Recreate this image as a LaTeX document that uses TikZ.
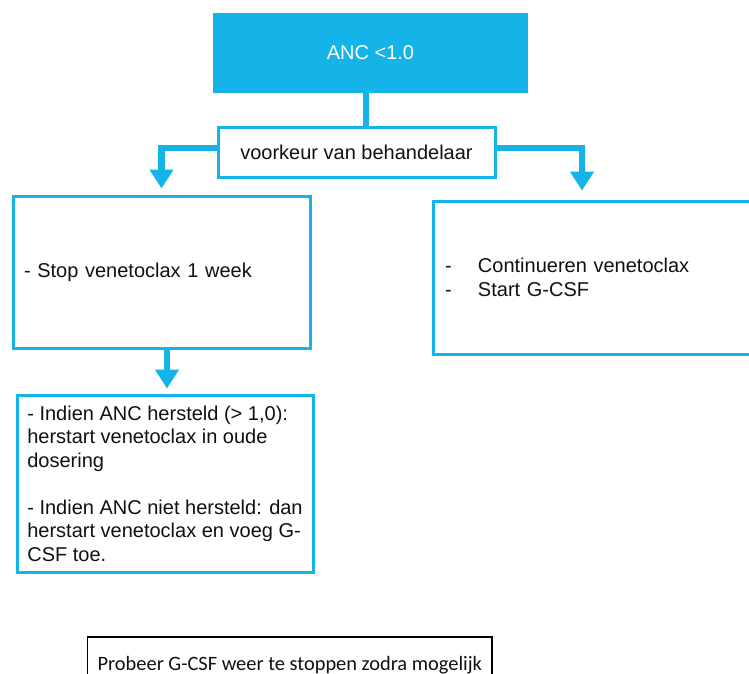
\documentclass[tikz,border=0pt]{standalone}
\usepackage{fontspec}
\setmainfont{Liberation Sans}
\newfontfamily\carlito{Carlito}
\usetikzlibrary{arrows.meta}
\definecolor{cyanblue}{HTML}{14B4E8}
\definecolor{txt}{HTML}{111111}
\begin{document}
\begin{tikzpicture}[x=1pt,y=-1pt,
  box/.style={draw=cyanblue, line width=3pt, fill=white, text=txt, font=\fontsize{20}{23.5}\selectfont, inner ysep=0pt},
  conn/.style={draw=cyanblue, line width=6.5pt, line join=miter, -{Triangle[width=23pt,length=19pt]}},
  stem/.style={draw=cyanblue, line width=6.5pt}]
\useasboundingbox (0,0) rectangle (749,674);
\clip (0,0) rectangle (749,674);
\node[fill=cyanblue, text=white, minimum width=315pt, minimum height=80pt, inner sep=0pt, font=\fontsize{20}{24}\selectfont] (anc) at (370.5,53) {ANC <1.0};
\node[box, minimum width=277pt, minimum height=49pt, inner xsep=0pt] (voork) at (356.5,152.5) {voorkeur van behandelaar};
\node[box, minimum height=152pt, text width=275pt, inner xsep=11pt, align=left] (stop) at (161.5,272) {- Stop venetoclax 1 week};
\node[box, minimum width=296pt, minimum height=177pt, inner xsep=0pt, align=left] (indien) at (165,483.5) {- Indien ANC hersteld (> 1,0):\\herstart venetoclax in oude\\dosering\\[23.5pt]- Indien ANC niet hersteld: dan\\herstart venetoclax en voeg G-\\CSF toe.};
\node[box, minimum height=153pt, text width=295pt, inner xsep=12pt, align=left] (cont) at (592.5,277.5) {\makebox[33pt][l]{-}Continueren venetoclax\\\makebox[33pt][l]{-}Start G-CSF};
\node[draw=black, line width=1.3pt, text=txt, font=\carlito\fontsize{20.4}{24}\selectfont, text height=13pt, text depth=4pt, inner xsep=10pt, inner ysep=20pt, anchor=base west] (probeer) at (87,670) {Probeer G-CSF weer te stoppen zodra mogelijk};
\coordinate (stemx) at (366,0);
\coordinate (rx) at (582,0);
\coordinate (dx) at (167,0);
\draw[stem] (stemx |- anc.south) -- (stemx |- voork.north);
\draw[conn, shorten >=6pt] ([yshift=4.5pt]voork.west) -| (stop.north);
\draw[conn, shorten >=9pt] ([yshift=4.5pt]voork.east) -| (rx |- cont.north);
\draw[conn, shorten >=5pt] (dx |- stop.south) -- (dx |- indien.north);
\end{tikzpicture}
\end{document}
